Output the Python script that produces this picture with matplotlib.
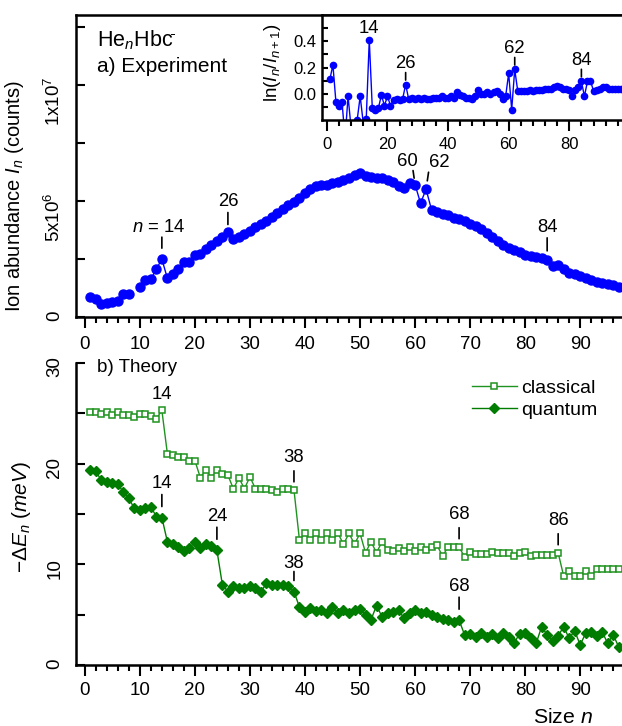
import numpy as np
import matplotlib
matplotlib.use('Agg')
import matplotlib.pyplot as plt
from matplotlib.ticker import MultipleLocator, FixedLocator

plt.rcParams['font.family'] = ['Liberation Sans', 'DejaVu Sans']
plt.rcParams['mathtext.fontset'] = 'custom'
plt.rcParams['mathtext.rm'] = 'Liberation Sans'
plt.rcParams['mathtext.it'] = 'Liberation Sans:italic'
plt.rcParams['mathtext.bf'] = 'Liberation Sans:bold'

# ---- data ----
size_n = np.arange(1, 98)

# ion abundance, units of 1e6 counts (n = 9 not measured)
abundance = [0.84, 0.78, 0.58, 0.62, 0.66, 0.70, 0.98, 0.99, np.nan, 1.28,
             1.59, 1.62, 2.07, 2.49, 1.67, 1.85, 2.08, 2.38, 2.38, 2.67,
             2.71, 2.94, 3.08, 3.27, 3.45, 3.68, 3.35, 3.45, 3.58, 3.72,
             3.86, 4.02, 4.15, 4.32, 4.47, 4.63, 4.80, 4.96, 5.13, 5.32,
             5.52, 5.65, 5.70, 5.68, 5.76, 5.80, 5.90, 6.00, 6.10, 6.20,
             6.05, 6.03, 6.00, 5.97, 5.90, 5.80, 5.62, 5.55, 5.76, 5.70,
             4.90, 5.50, 4.61, 4.54, 4.45, 4.37, 4.28, 4.20, 4.12, 4.00,
             3.92, 3.78, 3.62, 3.45, 3.28, 3.12, 2.98, 2.87, 2.78, 2.68,
             2.64, 2.60, 2.56, 2.46, 2.20, 2.24, 2.05, 1.90, 1.84, 1.75,
             1.68, 1.58, 1.52, 1.47, 1.42, 1.36, 1.31]

# ln(I_n / I_n+1) for the inset
ln_ratio = [0.11, 0.22, -0.065, -0.09, -0.06, -0.34, -0.02, -0.26, np.nan, -0.20,
            -0.02, -0.22, -0.19, 0.41, -0.11, -0.12, -0.11, -0.01, -0.09, -0.02,
            -0.09, -0.05, -0.04, -0.05, -0.04, 0.07, -0.04, -0.03, -0.04, -0.03,
            -0.04, -0.03, -0.04, -0.04, -0.03, -0.03, -0.03, -0.02, -0.03, -0.03,
            -0.02, -0.03, 0.01, -0.01, -0.02, -0.03, -0.03, -0.04, -0.02, 0.03,
            0.0, 0.0, 0.01, 0.0, 0.01, 0.02, 0.0, -0.04, -0.02, 0.155,
            -0.12, 0.185, 0.02, 0.02, 0.02, 0.02, 0.03, 0.02, 0.03, 0.03,
            0.03, 0.04, 0.04, 0.04, 0.05, 0.06, 0.05, 0.04, 0.04, 0.03,
            -0.02, 0.03, 0.05, 0.095, -0.02, 0.095, 0.10, 0.02, 0.03, 0.04,
            0.05, 0.05, 0.04, 0.04, 0.04, 0.04, 0.04]

# -dE_n in meV
classical = [25.1, 25.1, 24.9, 25.1, 24.85, 25.1, 24.8, 24.8, 24.65, 24.9,
             24.9, 24.75, 24.45, 25.3, 21.0, 20.9, 20.7, 20.7, 20.3, 20.3,
             18.6, 19.4, 18.6, 19.4, 18.95, 18.85, 17.5, 18.6, 17.5, 18.7,
             17.5, 17.45, 17.45, 17.4, 17.2, 17.45, 17.45, 17.4, 12.4, 13.1,
             12.4, 13.1, 12.4, 13.1, 12.4, 13.08, 12.0, 13.08, 12.0, 13.08,
             11.15, 12.25, 11.15, 12.25, 11.4, 11.35, 11.6, 11.35, 11.7, 11.35,
             11.7, 11.4, 11.75, 11.9, 10.8, 11.75, 11.75, 11.75, 10.7, 11.25,
             11.0, 11.0, 11.0, 11.25, 11.1, 11.1, 11.1, 10.8, 11.1, 11.25,
             10.8, 10.9, 10.9, 10.9, 10.9, 11.15, 8.84, 9.37, 8.84, 8.84,
             9.37, 8.84, 9.5, 9.5, 9.5, 9.5, 9.5]

quantum = [19.35, 19.25, 18.35, 18.2, 18.1, 17.95, 17.2, 16.55, 15.55, 15.4,
           15.55, 15.7, 14.75, 14.65, 12.25, 12.0, 11.75, 11.35, 11.6, 12.25,
           11.6, 12.05, 11.8, 11.4, 7.95, 7.3, 7.8, 7.6, 7.6, 7.8,
           7.6, 7.3, 8.1, 7.95, 7.95, 7.95, 7.85, 7.3, 5.75, 5.3,
           5.7, 5.35, 5.5, 5.15, 5.8, 5.15, 5.45, 5.15, 5.45, 5.6,
           4.95, 4.5, 5.9, 4.8, 5.15, 5.3, 5.45, 4.65, 5.15, 5.45,
           5.15, 5.3, 4.95, 4.8, 4.6, 4.45, 4.3, 4.45, 3.0, 3.05,
           2.8, 3.2, 2.8, 3.1, 2.65, 3.15, 2.8, 2.2, 3.1, 3.2,
           2.65, 2.15, 3.8, 3.0, 2.4, 2.9, 3.8, 2.65, 3.4, 2.0,
           3.15, 3.3, 2.9, 3.3, 2.15, 3.0, 1.8]

top_labels = [14, 26, 60, 62, 84]
classical_labels = [14, 38, 68, 86]
quantum_labels = [14, 24, 38, 68]

abundance = np.array(abundance) * 1e6
BLUE = '#0000ff'
GREEN_Q = '#007c00'
GREEN_C = '#1f931f'
FS = 13.3    # annotations
TFS = 13.5   # tick labels


def mark(ax, n, v, text, tdy=31, tdx=0, t0=9, t1=20, dx=0, tick=True, fs=FS):
    ax.annotate(text, xy=(n, v), xytext=(tdx, tdy), textcoords='offset pixels',
                ha='center', va='center', fontsize=fs)
    if tick:
        ax.annotate('', xy=(n, v), xytext=(dx, t1), textcoords='offset pixels',
                    arrowprops=dict(arrowstyle='-', lw=1.2, color='k',
                                    shrinkA=0, shrinkB=t0 * 0.72))


def style_axes(ax):
    for s in ['left', 'bottom', 'top']:
        ax.spines[s].set_linewidth(1.8)
    ax.spines['right'].set_visible(False)
    ax.tick_params(axis='x', which='major', direction='out', length=8, width=1.5,
                   labelsize=TFS, pad=4)
    ax.tick_params(axis='x', which='minor', direction='out', length=4.5, width=1.5)
    ax.tick_params(axis='y', which='both', direction='in', length=6.5, width=1.5,
                   labelsize=TFS, labelrotation=90, pad=9)
    ax.tick_params(top=False, right=False, which='both')


fig = plt.figure(figsize=(6.22, 7.26), dpi=100)
W, H = 622.0, 726.0

# ---- a) experiment ----
ax1 = fig.add_axes([76 / W, 1 - 317 / H, 546 / W, 302 / H])
ax1.plot(size_n, abundance, '-o', color=BLUE, ms=6.5, lw=1.0, mec=BLUE)
ax1.set_xlim(-1.6, 97.6)
ax1.set_ylim(0, 1.3e7)
style_axes(ax1)
ax1.tick_params(axis='x', which='major', pad=6)
ax1.xaxis.set_major_locator(MultipleLocator(10))
ax1.xaxis.set_minor_locator(MultipleLocator(2))
ax1.yaxis.set_major_locator(FixedLocator([0, 5e6, 1e7]))
ax1.yaxis.set_minor_locator(FixedLocator([2.5e6, 7.5e6, 1.25e7]))
ax1.set_yticklabels(['0', r'5x10$^6$', r'1x10$^7$'])
ax1.set_ylabel(r'Ion abundance $I_n$ (counts)', fontsize=14.5)
ax1.yaxis.set_label_coords(-0.092, 0.40)
ax1.text(0.038, 0.915, r'He$_n$Hbc$^{\bar{}}$', transform=ax1.transAxes,
         fontsize=15.5, va='center')
ax1.text(0.038, 0.828, 'a) Experiment', transform=ax1.transAxes,
         fontsize=15, va='center')

ab = dict(zip(size_n, abundance))
mark(ax1, 14, ab[14], r'$n$ = 14', tdy=32, tdx=-3, t0=11, t1=22)
mark(ax1, 26, ab[26], '26', tdy=30, t0=7, t1=19)
mark(ax1, 60, ab[60], '60', tdy=23, tdx=-8, t0=6.5, t1=14, dx=-2)
mark(ax1, 62, ab[62], '62', tdy=27, tdx=13, t0=8.5, t1=17, dx=2.5)
mark(ax1, 84, ab[84], '84', tdy=32, t0=9, t1=22)

# ---- inset ----
ax3 = fig.add_axes([322 / W, 1 - 120 / H, 300 / W, 105 / H])
ax3.plot(size_n, ln_ratio, '-o', color=BLUE, ms=4.5, lw=1.0, mec=BLUE)
ax3.set_xlim(-1.6, 97.4)
ax3.set_ylim(-0.2, 0.6)
for s in ['left', 'bottom', 'top']:
    ax3.spines[s].set_linewidth(1.8)
ax3.spines['right'].set_visible(False)
ax3.xaxis.set_major_locator(MultipleLocator(20))
ax3.xaxis.set_minor_locator(MultipleLocator(4))
ax3.yaxis.set_major_locator(FixedLocator([0.0, 0.2, 0.4]))
ax3.yaxis.set_minor_locator(FixedLocator([-0.1, 0.1, 0.3, 0.5]))
ax3.set_yticklabels(['0.0', '0.2', '0.4'])
ax3.tick_params(axis='x', which='major', direction='out', length=8, width=1.5,
                labelsize=12, pad=4)
ax3.tick_params(axis='x', which='minor', direction='out', length=4, width=1.5)
ax3.tick_params(axis='y', which='both', direction='in', length=4.5, width=1.5,
                labelsize=12, pad=4)
ax3.set_ylabel(r'ln($I_n$/$I_{n+1}$)', fontsize=13.5)
ax3.yaxis.set_label_coords(-0.13, 0.55)
lr = dict(zip(size_n, ln_ratio))
for n in top_labels:
    if n == 60:
        continue
    if n == 14:
        mark(ax3, n, lr[n], '14', tdy=11, tick=False)
    else:
        mark(ax3, n, lr[n], str(n), tdy=21, t0=4.5, t1=12)

# ---- b) theory ----
ax2 = fig.add_axes([76 / W, 1 - 665 / H, 546 / W, 302 / H])
ax2.plot(size_n, classical, '-s', color=GREEN_C, ms=4.4, lw=1.0, mfc='white',
         mec=GREEN_C, mew=1.1, label='classical')
ax2.plot(size_n, quantum, '-D', color=GREEN_Q, ms=4.8, lw=1.0, mec=GREEN_Q,
         label='quantum')
ax2.set_xlim(-1.6, 97.6)
ax2.set_ylim(0, 30)
style_axes(ax2)
ax2.spines['top'].set_visible(False)
ax2.xaxis.set_major_locator(MultipleLocator(10))
ax2.xaxis.set_minor_locator(MultipleLocator(2))
ax2.yaxis.set_major_locator(MultipleLocator(10))
ax2.yaxis.set_minor_locator(MultipleLocator(5))
ax2.set_ylabel(r'$-\Delta E_n$ $\mathit{(meV)}$', fontsize=15)
ax2.yaxis.set_label_coords(-0.079, 0.49)
ax2.text(0.892, -0.175, r'Size $n$', transform=ax2.transAxes, fontsize=15.3,
         ha='center', va='center')
ax2.text(0.038, 0.985, 'b) Theory', transform=ax2.transAxes, fontsize=13.6,
         va='center')
leg = ax2.legend(loc='upper left', bbox_to_anchor=(0.70, 0.99), frameon=False,
                 fontsize=14, handlelength=2.3, handletextpad=0.25,
                 labelspacing=0.2, borderpad=0.2)

cl = dict(zip(size_n, classical))
qu = dict(zip(size_n, quantum))
for n in classical_labels:
    if n == 14:
        mark(ax2, n, cl[n], '14', tdy=16, tick=False)
    else:
        mark(ax2, n, cl[n], str(n), tdy=32, t0=8, t1=19)
for n in quantum_labels:
    if n == 38:
        mark(ax2, n, qu[n], str(n), tdy=28, t0=11, t1=20)
    else:
        mark(ax2, n, qu[n], str(n), tdy=34, t0=11, t1=23)

fig.savefig('out.png', dpi=100)
